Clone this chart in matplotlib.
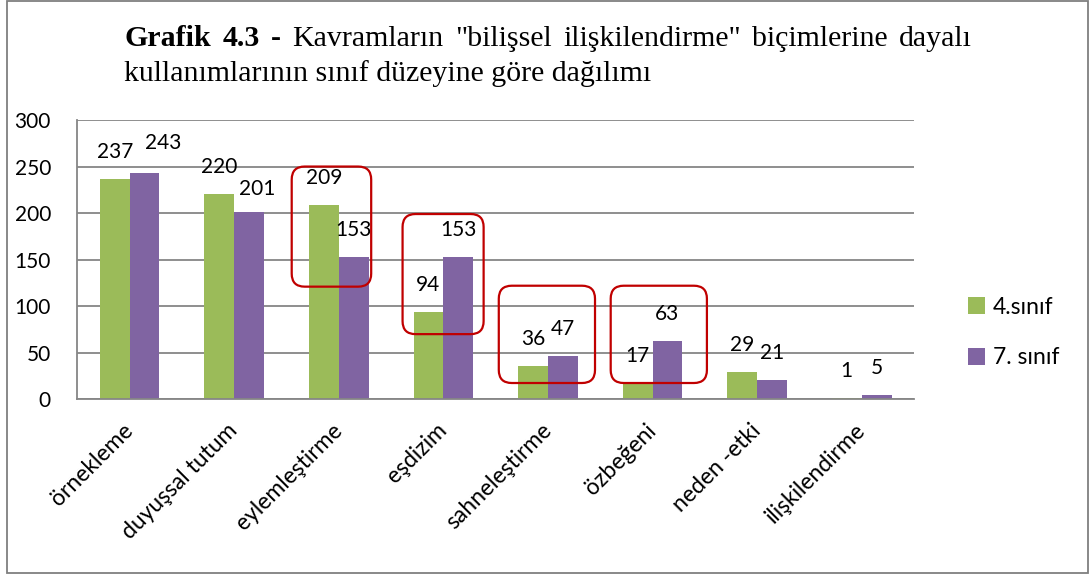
import matplotlib
matplotlib.use("Agg")
import numpy as np
import matplotlib.pyplot as plt
from matplotlib.patches import FancyBboxPatch, Rectangle
from matplotlib.transforms import IdentityTransform

categories = ["örnekleme", "duyuşsal tutum", "eylemleştirme", "eşdizim",
              "sahneleştirme", "özbeğeni", "neden -etki", "ilişkilendirme"]
grade4 = [237, 220, 209, 94, 36, 17, 29, 1]
grade7 = [243, 201, 153, 153, 47, 63, 21, 5]
series_names = ["4.sınıf", "7. sınıf"]
yticks = [0, 50, 100, 150, 200, 250, 300]

title_bold = ["Grafik", "4.3", "-"]
title_rest = ["Kavramların", "\"bilişsel", "ilişkilendirme\"", "biçimlerine", "dayalı"]
title_line2 = "kullanımlarının sınıf düzeyine göre dağılımı"

# hand-moved data labels in the original (pixels)
nudge4 = [(0, 0)] * 8
nudge7 = [(19, 3), (8, -4), (0, 0), (0, 0), (0, 0), (0, 0), (0, 0), (0, 0)]

# red highlight frames: category, left/right offset, bottom/top value
frames = [
    (2, -0.45, 0.31, 121, 250),
    (3, -0.39, 0.385, 70, 199),
    (4, -0.47, 0.45, 17.5, 122),
    (5, -0.40, 0.52, 17.5, 122),
]

GREEN = "#9BBB59"
PURPLE = "#8064A2"
GRID = "#868686"
W, H = 1091, 579

plt.rcParams["font.family"] = ["Lato", "DejaVu Sans"]

fig = plt.figure(figsize=(W / 100, H / 100), dpi=100)
ax = fig.add_axes([77.3 / W, 1 - 399.3 / H, (914 - 77.3) / W, (399.3 - 120) / H])

x = np.arange(len(categories))
bw = 0.285
b4 = ax.bar(x - bw / 2, grade4, bw, color=GREEN, label=series_names[0], zorder=2)
b7 = ax.bar(x + bw / 2, grade7, bw, color=PURPLE, label=series_names[1], zorder=2)

ax.set_xlim(-0.5, len(categories) - 0.5)
ax.set_ylim(0, 300)
ax.set_yticks(yticks)
ax.yaxis.grid(True, color=GRID, lw=1.3, zorder=0)
ax.set_axisbelow(True)
for s in ["top", "right"]:
    ax.spines[s].set_visible(False)
for s in ["left", "bottom"]:
    ax.spines[s].set_color(GRID)
    ax.spines[s].set_linewidth(1.3)
ax.tick_params(axis="y", length=0, pad=19, labelsize=15)
ax.set_xticks(x)
ax.set_xticklabels(categories, rotation=45, ha="right", va="center",
                   rotation_mode="anchor", fontsize=16.5)
ax.tick_params(axis="x", length=0, pad=20)

for xs, vals, nud in [(x - bw / 2, grade4, nudge4), (x + bw / 2, grade7, nudge7)]:
    for xi, v, (dx, dy) in zip(xs, vals, nud):
        ax.annotate(str(v), (xi, v), xytext=(dx, 27 + dy), textcoords="offset pixels",
                    ha="center", va="center", fontsize=15)

# red frames, drawn in pixel space so the corners stay round
for cat, lo, hi, ylo, yhi in frames:
    (px0, py0) = ax.transData.transform((cat + lo, ylo))
    (px1, py1) = ax.transData.transform((cat + hi, yhi))
    fig.add_artist(FancyBboxPatch((px0, py0), px1 - px0, py1 - py0,
                                  boxstyle="round,pad=0,rounding_size=13",
                                  transform=IdentityTransform(), fc="none",
                                  ec="#C00000", lw=1.6, zorder=5))

fig.legend(handles=[b4, b7], loc="center left",
           bbox_to_anchor=(968 / W, 1 - 332.5 / H), frameon=False,
           borderpad=0, borderaxespad=0, handlelength=0.75, handleheight=0.75,
           handletextpad=0.35, labelspacing=1.3, fontsize=16.5)

# title, first line justified like the Word text
tfont = dict(family="Liberation Serif", fontsize=21.5, va="baseline")
renderer = fig.canvas.get_renderer()
objs = []
for w in title_bold:
    objs.append(fig.text(0, 1 - 46 / H, w, fontweight="bold", **tfont))
for w in title_rest:
    objs.append(fig.text(0, 1 - 46 / H, w, **tfont))
widths = [o.get_window_extent(renderer).width for o in objs]
left, right = 124, 972
gap = (right - left - sum(widths)) / (len(objs) - 1)
xpos = left
for o, wd in zip(objs, widths):
    o.set_x(xpos / W)
    xpos += wd + gap
fig.text(left / W, 1 - 81 / H, title_line2, **tfont)

fig.add_artist(Rectangle((7 / W, 6 / H), (1088 - 7) / W, (578 - 6) / H,
                         transform=fig.transFigure, fill=False,
                         ec="#7f7f7f", lw=1.3))

fig.savefig("out.png", dpi=100)
